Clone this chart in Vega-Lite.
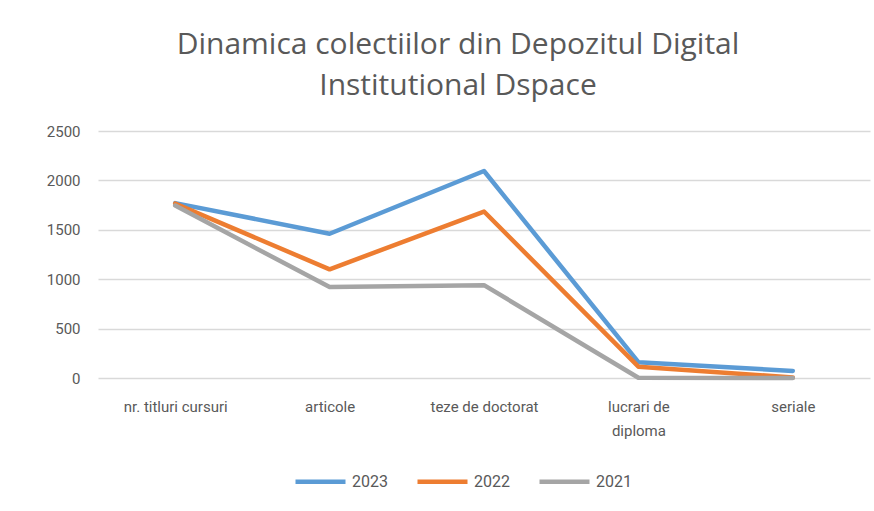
{
  "$schema": "https://vega.github.io/schema/vega-lite/v6.json",
  "width": 772,
  "height": 247,
  "autosize": "none",
  "padding": {"left": 98, "top": 131, "right": 4, "bottom": 133},
  "background": "white",
  "title": {
    "text": ["Dinamica colectiilor din Depozitul Digital", "Institutional Dspace"],
    "font": "Open Sans",
    "fontSize": 30,
    "fontWeight": "normal",
    "color": "#595959",
    "lineHeight": 41,
    "anchor": "middle",
    "dx": -26,
    "offset": 23
  },
  "data": {
    "values": [
      {"categorie": "nr. titluri cursuri", "an": "2023", "valoare": 1770},
      {"categorie": "articole", "an": "2023", "valoare": 1460},
      {"categorie": "teze de doctorat", "an": "2023", "valoare": 2095},
      {"categorie": "lucrari de diploma", "an": "2023", "valoare": 160},
      {"categorie": "seriale", "an": "2023", "valoare": 72},
      {"categorie": "nr. titluri cursuri", "an": "2022", "valoare": 1765},
      {"categorie": "articole", "an": "2022", "valoare": 1100},
      {"categorie": "teze de doctorat", "an": "2022", "valoare": 1685},
      {"categorie": "lucrari de diploma", "an": "2022", "valoare": 115},
      {"categorie": "seriale", "an": "2022", "valoare": 5},
      {"categorie": "nr. titluri cursuri", "an": "2021", "valoare": 1745},
      {"categorie": "articole", "an": "2021", "valoare": 920},
      {"categorie": "teze de doctorat", "an": "2021", "valoare": 940},
      {"categorie": "lucrari de diploma", "an": "2021", "valoare": 2},
      {"categorie": "seriale", "an": "2021", "valoare": 0}
    ]
  },
  "mark": {"type": "line", "strokeWidth": 4.5, "strokeCap": "round", "strokeJoin": "round"},
  "encoding": {
    "x": {
      "field": "categorie",
      "type": "nominal",
      "sort": ["nr. titluri cursuri", "articole", "teze de doctorat", "lucrari de diploma", "seriale"],
      "scale": {"type": "point", "padding": 0.5},
      "axis": {
        "title": null,
        "labelAngle": 0,
        "labelFont": "Roboto",
        "labelFontSize": 15,
        "labelColor": "#595959",
        "labelPadding": 21,
        "labelLineHeight": 24,
        "labelExpr": "datum.label == 'lucrari de diploma' ? ['lucrari de', 'diploma'] : datum.label",
        "ticks": false,
        "domain": false,
        "grid": false
      }
    },
    "y": {
      "field": "valoare",
      "type": "quantitative",
      "scale": {"domain": [0, 2500]},
      "axis": {
        "title": null,
        "values": [0, 500, 1000, 1500, 2000, 2500],
        "format": "d",
        "labelFont": "Roboto",
        "labelFontSize": 15,
        "labelColor": "#595959",
        "labelPadding": 18,
        "ticks": false,
        "domain": false,
        "gridColor": "#d9d9d9",
        "gridWidth": 1.5
      }
    },
    "color": {
      "field": "an",
      "type": "nominal",
      "sort": ["2023", "2022", "2021"],
      "scale": {"domain": ["2023", "2022", "2021"], "range": ["#5b9bd5", "#ed7d31", "#a5a5a5"]},
      "legend": {
        "title": null,
        "orient": "none",
        "legendX": 195,
        "legendY": 323,
        "direction": "horizontal",
        "symbolType": "stroke",
        "symbolSize": 2500,
        "symbolStrokeWidth": 4.5,
        "labelFont": "Roboto",
        "labelFontSize": 16,
        "labelColor": "#595959",
        "labelOffset": 4,
        "columnPadding": 20
      }
    }
  },
  "config": {
    "view": {"stroke": null}
  }
}
